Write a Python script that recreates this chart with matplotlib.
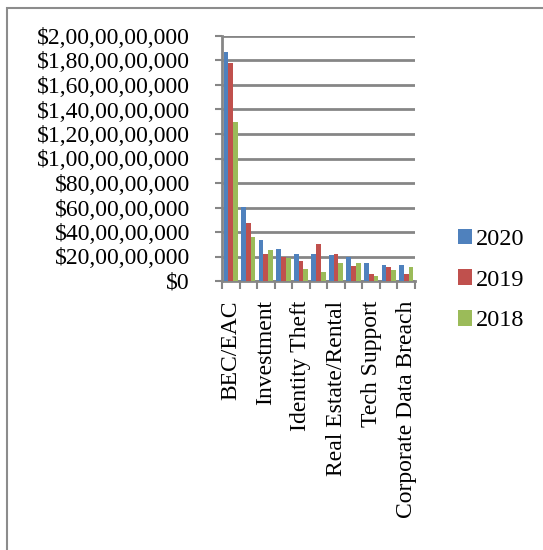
import matplotlib
matplotlib.use("Agg")
import matplotlib.pyplot as plt
import numpy as np
from matplotlib.ticker import FuncFormatter
from matplotlib.patches import Rectangle

categories = ["BEC/EAC", "Confidence/Romance", "Investment", "Non-payment/Non-delivery",
              "Identity Theft", "Spoofing", "Real Estate/Rental", "Personal Data Breach",
              "Tech Support", "Credit Card Fraud", "Corporate Data Breach"]
shown_labels = ["BEC/EAC", "Investment", "Identity Theft", "Real Estate/Rental",
                "Tech Support", "Corporate Data Breach"]
loss_2020 = [1866642107, 600249821, 336469000, 265011249, 219484699, 216513728,
             213196082, 194473055, 146477709, 129820792, 128916648]
loss_2019 = [1776549688, 475014032, 222186195, 196563497, 160305789, 300478433,
             221365911, 120102501, 54057804, 111491163, 53390974]
loss_2018 = [1297803489, 362500761, 252955320, 183826809, 100429691, 70000248,
             149458114, 148892068, 38702109, 88991436, 117711989]
series_names = ["2020", "2019", "2018"]
colors = ["#4F81BD", "#C0504D", "#9BBB59"]

plt.rcParams['font.family'] = ['Liberation Serif', 'DejaVu Serif']

W, H = 543, 550
fig = plt.figure(figsize=(W/100, H/100), dpi=100)
fig.patches.append(Rectangle((7/W, -0.1), 1.2, (H-8)/H + 0.1, transform=fig.transFigure,
                             fill=False, edgecolor="#8c8c8c", linewidth=1.5))

ax = fig.add_axes([222/W, 1-281/H, (415-222)/W, (281-36)/H])
x = np.arange(len(categories))
bw = 0.27
for i, (vals, name, c) in enumerate(zip([loss_2020, loss_2019, loss_2018], series_names, colors)):
    ax.bar(x + (i-1)*bw, vals, width=bw, color=c, label=name, zorder=3)

ax.set_xlim(-0.5, len(categories)-0.5)
ax.set_ylim(0, 2e9)
ax.set_yticks(np.arange(0, 2.0e9+1, 2e8))

def indian(v, pos):
    n = int(round(v))
    if n == 0:
        return "$0"
    s = str(n)
    last3 = s[-3:]
    rest = s[:-3]
    parts = []
    while len(rest) > 2:
        parts.insert(0, rest[-2:])
        rest = rest[:-2]
    if rest:
        parts.insert(0, rest)
    return "$" + ",".join(parts + [last3])

ax.yaxis.set_major_formatter(FuncFormatter(indian))
ax.grid(axis='y', color="#868686", linewidth=2, zorder=0)
for sp in ["top", "right"]:
    ax.spines[sp].set_visible(False)
ax.spines["left"].set_color("#868686")
ax.spines["bottom"].set_color("#868686")
ax.spines["left"].set_linewidth(2)
ax.spines["bottom"].set_linewidth(2)

ax.set_xticks(x[::2])
ax.set_xticklabels(shown_labels, rotation=90, fontsize=17)
ax.set_xticks(np.arange(-0.5, len(categories), 1.0), minor=True)
ax.tick_params(axis='x', which='major', length=0, pad=14)
ax.tick_params(axis='x', which='minor', length=6, width=1.5, color="#868686", direction='out')
ax.tick_params(axis='y', length=5, width=1.5, color="#868686", labelsize=17, pad=18)

leg = fig.legend(loc='upper left', bbox_to_anchor=(448/W, 1-219/H), frameon=False,
                 fontsize=17.5, handlelength=0.6, handleheight=0.6, handletextpad=0.15,
                 labelspacing=0.8, borderaxespad=0)

fig.savefig("out.png", dpi=100)
